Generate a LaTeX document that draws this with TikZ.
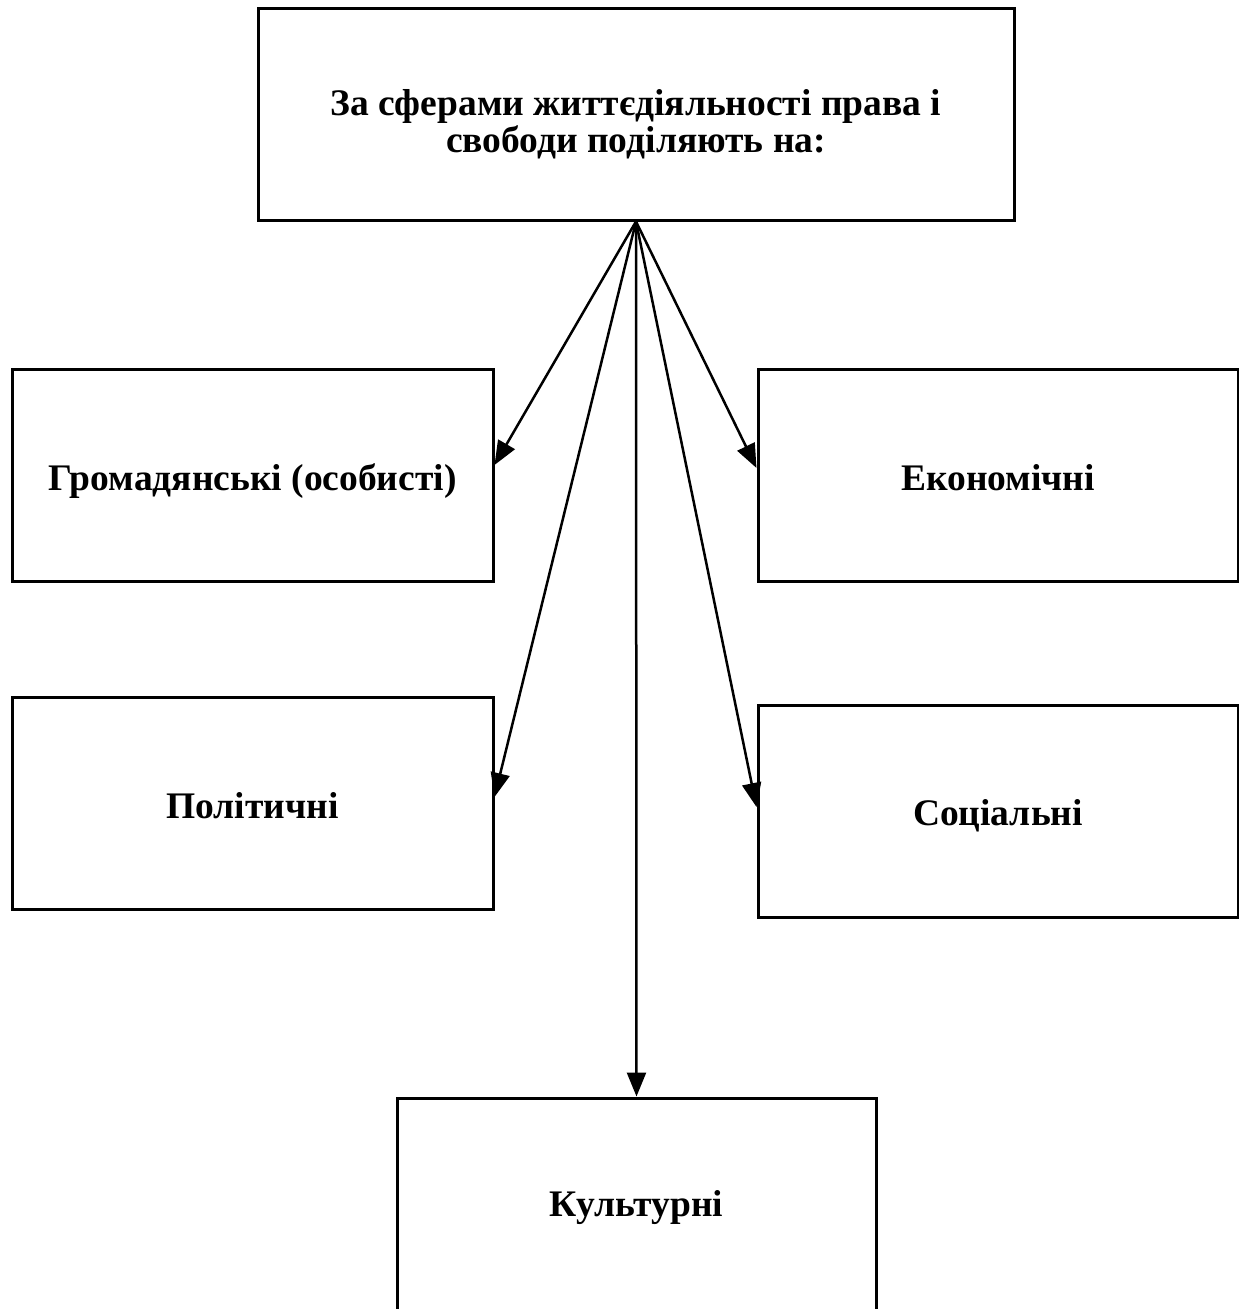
\documentclass[tikz,border=0pt]{standalone}
\usepackage{fontspec}
\setmainfont{Liberation Serif}
\usetikzlibrary{arrows.meta}
\newcommand{\dn}[2]{\raisebox{-#1}[\height][\depth]{#2}}
\begin{document}
\begin{tikzpicture}[x=1pt,y=-1pt,
  box/.style={draw,line width=3pt,minimum width=#1,minimum height=212pt,inner sep=0pt,align=center,font=\bfseries\fontsize{37.5}{40}\selectfont},
  box/.default=481pt,
  arr/.style={line width=2.5pt,-{Triangle[length=24pt,width=19pt]}}]
\useasboundingbox (0,0) rectangle (1239,1309);
\node[box=756pt] (top) at (636,114) {\dn{12pt}{\begin{tabular}{@{}c@{}}За сферами життєдіяльності права і\\[-3pt]свободи поділяють на:\end{tabular}}};
\node[box] (civ) at (252.5,475) {\dn{6pt}{Громадянські (особисті)}};
\node[box=480pt] (eco) at (998,475) {\dn{3pt}{Економічні}};
\node[box] (pol) at (252.5,803) {\dn{3pt}{Політичні}};
\node[box=480pt] (soc) at (998,811) {\dn{5pt}{Соціальні}};
\node[box=479pt] (cul) at (636.5,1204) {\dn{4pt}{Культурні}};
\coordinate (civin) at (civ.east |- 0,465);
\coordinate (ecoin) at (eco.west |- 0,468);
\coordinate (polin) at (pol.east |- 0,797);
\coordinate (socin) at (soc.west |- 0,807);
\draw[arr] (top.south) -- (civin);
\draw[arr] (top.south) -- (ecoin);
\draw[arr] (top.south) -- (polin);
\draw[arr] (top.south) -- (socin);
\draw[arr] (top.south) -- (cul.north);
\end{tikzpicture}
\end{document}
